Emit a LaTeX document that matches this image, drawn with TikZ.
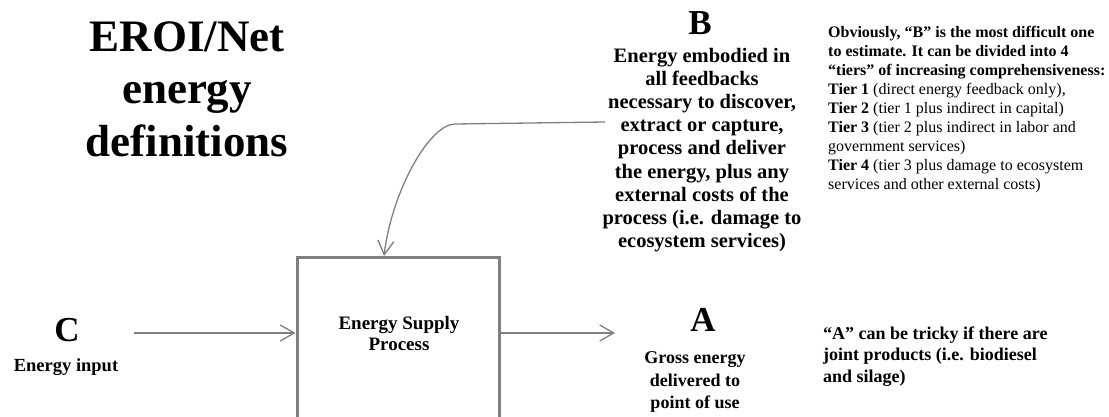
\documentclass[tikz,border=0pt]{standalone}
\usepackage{fontspec}
\setmainfont{Liberation Serif}
\usetikzlibrary{positioning, calc, arrows.meta}
\definecolor{linegray}{RGB}{128,128,128}

\begin{document}
\begin{tikzpicture}[x=1pt, y=-1pt, every node/.style={inner sep=0pt, align=center},
  title/.style={font=\fontsize{45}{52.5}\selectfont\bfseries},
  letter/.style={font=\fontsize{35}{40}\selectfont\bfseries},
  desc/.style={font=\fontsize{18}{22.5}\selectfont\bfseries},
  note/.style={font=\fontsize{16}{19}\selectfont, align=left, anchor=west},
  flow/.style={draw=linegray, line width=1.3pt, -{Straight Barb[length=14pt,width=16pt]}}]

\clip (0,0) rectangle (1109,417);
\fill[white] (0,0) rectangle (1109,417);

\coordinate (cin)   at (134,333);
\coordinate (aout)  at (615,333);
\coordinate (fbout) at (605,122);
\coordinate (fbx)   at (384,0);

\node[title] (head) at (187,89) {EROI/Net\\energy\\definitions};

% the process box runs off the bottom edge
\node[draw=linegray, line width=3pt, minimum width=202pt, minimum height=260pt, anchor=north] (esp) at (398,256) {};
\node[desc, font=\fontsize{19}{21}\selectfont\bfseries] (esplabel) at (399,333) {Energy Supply\\Process};

\node[letter] (Bhead) at (700,23.5) {B};
\node[desc, font=\fontsize{20.5}{23.1}\selectfont\bfseries] (Btext) at (702,150) {Energy embodied in\\all feedbacks\\necessary to discover,\\extract or capture,\\process and deliver\\the energy, plus any\\external costs of the\\process (i.e. damage to\\ecosystem services)};

\node[letter] (Chead) at (67,330) {C};
\node[desc, font=\fontsize{18.5}{22}\selectfont\bfseries] (Ctext) at (66,367) {Energy input};

\node[letter] (Ahead) at (703,320) {A};
\node[desc] (Atext) at (695,382) {Gross energy\\delivered to\\point of use};

\node[note] (Bnote) at (828,110) {\textbf{Obviously, “B” is the most difficult one}\\
  \textbf{to estimate. It can be divided into 4}\\
  \textbf{“tiers” of increasing comprehensiveness:}\\
  \textbf{Tier 1} (direct energy feedback only),\\
  \textbf{Tier 2} (tier 1 plus indirect in capital)\\
  \textbf{Tier 3} (tier 2 plus indirect in labor and\\
  government services)\\
  \textbf{Tier 4} (tier 3 plus damage to ecosystem\\
  services and other external costs)};

\node[desc, align=left, anchor=west, font=\fontsize{18}{21.5}\selectfont\bfseries] (Anote) at (823,356.5) {“A” can be tricky if there are\\joint products (i.e. biodiesel\\and silage)};

\draw[flow] (cin) -- (cin -| esp.west);
\draw[flow] (esp.east |- cin) -- (aout);
\draw[flow] (fbout) -- (455,124) .. controls (430,124) and (392,190) .. (fbx |- esp.north);

\end{tikzpicture}
\end{document}
